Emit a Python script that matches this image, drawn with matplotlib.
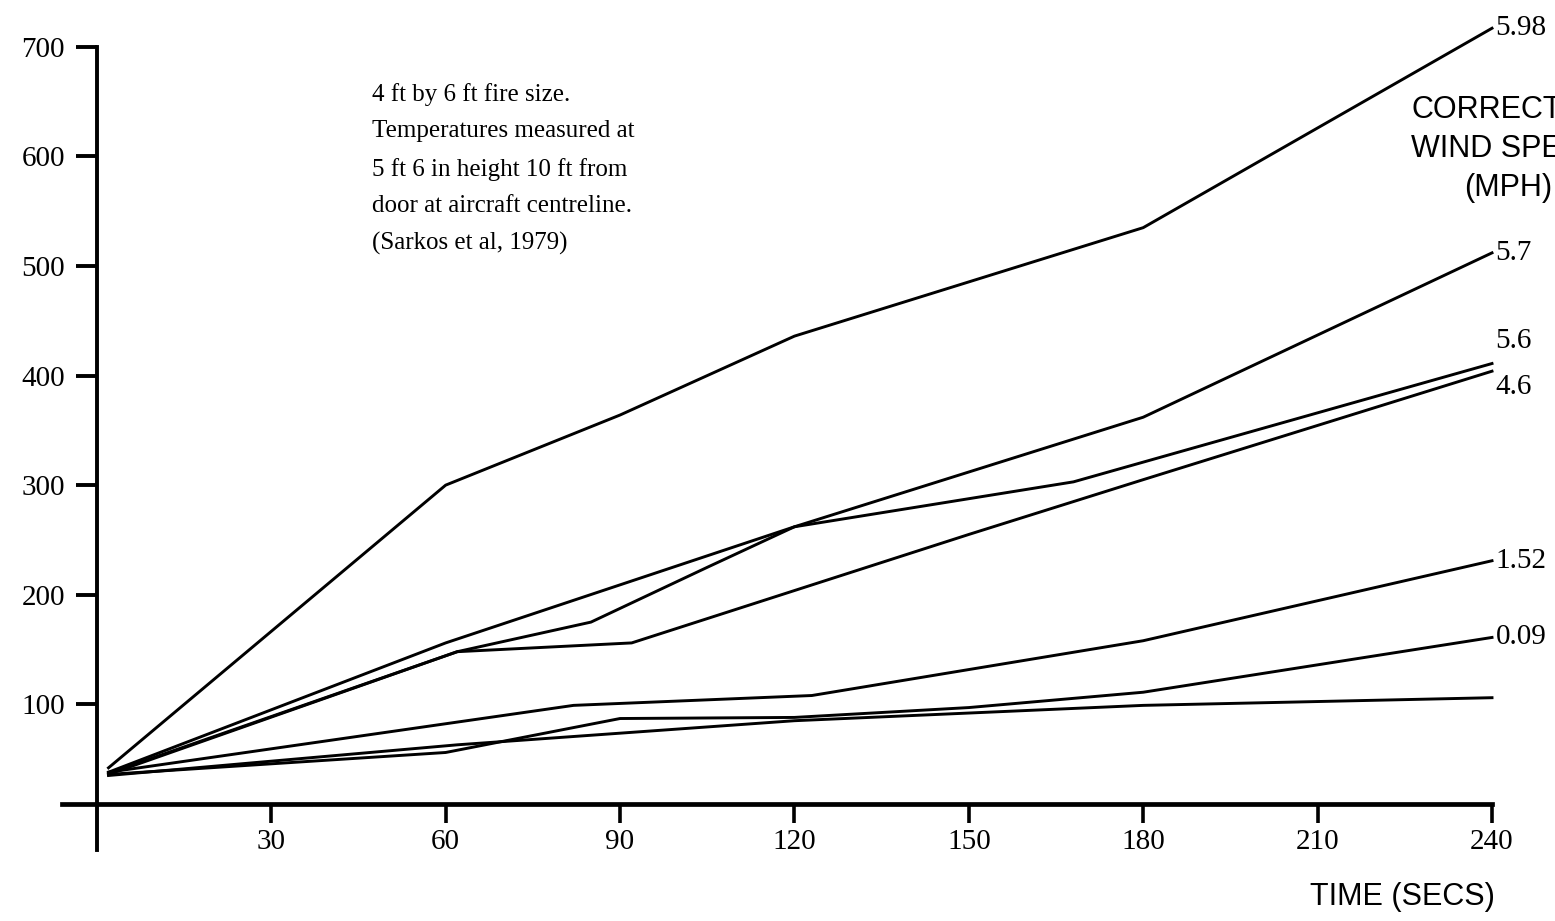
import matplotlib
matplotlib.use("Agg")
import matplotlib.pyplot as plt

# ---- data ----
t_598 = [2, 60, 90, 120, 180, 240]
v_598 = [42, 300, 364, 436, 535, 717]

t_57 = [2, 60, 120, 180, 240]
v_57 = [38, 156, 262, 362, 512]

t_56 = [2, 62, 85, 105, 120, 168, 240]
v_56 = [37, 148, 175, 225, 262, 303, 411]

t_46 = [2, 62, 92, 150, 180, 240]
v_46 = [36, 148, 156, 255, 305, 404]

t_152 = [2, 82, 123, 180, 240]
v_152 = [38, 99, 108, 158, 231]

t_009 = [2, 60, 90, 120, 150, 180, 240]
v_009 = [36, 56, 87, 88, 97, 111, 161]

t_flat = [2, 62, 120, 180, 240]
v_flat = [35, 63, 85, 99, 106]

series = [
    (t_598, v_598, "5.98"),
    (t_57, v_57, "5.7"),
    (t_56, v_56, "5.6"),
    (t_46, v_46, "4.6"),
    (t_152, v_152, "1.52"),
    (t_009, v_009, "0.09"),
    (t_flat, v_flat, None),
]
label_offsets = {"5.98": 0, "5.7": 0, "5.6": 21, "4.6": -14, "1.52": 0, "0.09": 0}

x_ticks = [30, 60, 90, 120, 150, 180, 210, 240]
y_ticks = [100, 200, 300, 400, 500, 600, 700]

note = ("4 ft by 6 ft fire size.\nTemperatures measured at\n5 ft 6 in height 10 ft from\n"
        "door at aircraft centreline.\n(Sarkos et al, 1979)")

serif = ["Liberation Serif", "DejaVu Serif"]
sans = ["Liberation Sans", "DejaVu Sans"]

W, H = 1555, 921
fig = plt.figure(figsize=(W / 100, H / 100), dpi=100)
ax = fig.add_axes([62 / W, 1 - 850 / H, (1492 - 62) / W, (850 - 14) / H])
ax.set_xlim(-6, 240)
ax.set_ylim(-33, 730)

for t, v, lab in series:
    ax.plot(t, v, color="black", lw=2.1, solid_joinstyle="round", clip_on=False)
    if lab is not None:
        ax.text(240.6, v[-1] + label_offsets[lab], lab, fontsize=21, family=serif,
                ha="left", va="center")

# spines
for s in ["top", "right"]:
    ax.spines[s].set_visible(False)
ax.spines["left"].set_position(("data", 0))
ax.spines["left"].set_bounds(-33, 700)
ax.spines["left"].set_linewidth(2.8)
ax.spines["bottom"].set_position(("data", 9))
ax.spines["bottom"].set_bounds(-6, 240)
ax.spines["bottom"].set_linewidth(3.4)

ax.set_xticks(x_ticks)
ax.set_xticklabels([str(x) for x in x_ticks])
ax.set_yticks(y_ticks)
ax.set_yticklabels([str(y) for y in y_ticks])
ax.tick_params(axis="x", direction="out", length=14, width=2.6, pad=4, labelsize=21)
ax.tick_params(axis="y", direction="out", length=15, width=2.8, pad=8, labelsize=21)
for lbl in ax.get_xticklabels() + ax.get_yticklabels():
    lbl.set_family(serif)

fig.text(372 / W, 1 - 83 / H, note, fontsize=18, family=serif, ha="left", va="top",
         linespacing=1.85)

fig.text(1508 / W, 1 - 149 / H, "CORRECTED\nWIND SPEED\n(MPH)", fontsize=22, family=sans,
         ha="center", va="center", multialignment="center", linespacing=1.4)

fig.text(1495 / W, 1 - 897 / H, "TIME (SECS)", fontsize=22, family=sans,
         ha="right", va="center")

fig.savefig("out.png", dpi=100, facecolor="white")
